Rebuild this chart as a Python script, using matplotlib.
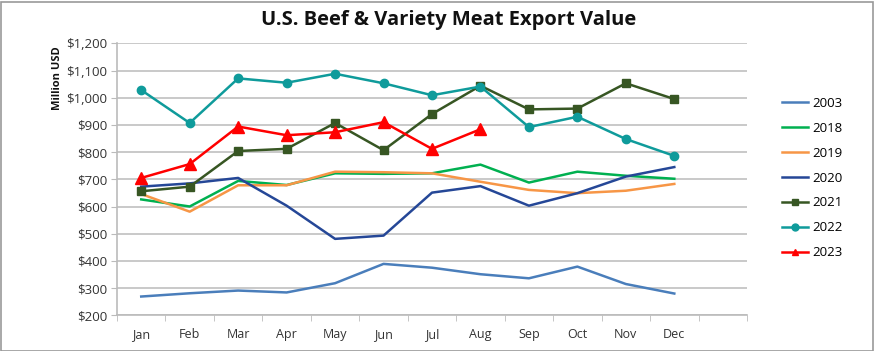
import matplotlib
matplotlib.use("Agg")
import matplotlib.pyplot as plt
from matplotlib.patches import Rectangle
from matplotlib.ticker import FuncFormatter, MultipleLocator

months = ["Jan", "Feb", "Mar", "Apr", "May", "Jun", "Jul", "Aug", "Sep", "Oct", "Nov", "Dec"]

v2003 = [269, 281, 291, 284, 318, 389, 375, 351, 336, 379, 315, 280]
v2018 = [626, 600, 694, 679, 722, 720, 722, 754, 688, 728, 713, 702]
v2019 = [646, 581, 678, 678, 728, 726, 722, 691, 661, 649, 658, 683]
v2020 = [673, 685, 705, 603, 481, 493, 651, 675, 603, 649, 710, 745]
v2021 = [656, 673, 804, 812, 907, 807, 940, 1044, 957, 960, 1053, 995]
v2022 = [1028, 907, 1071, 1055, 1088, 1053, 1009, 1041, 892, 930, 848, 786]
v2023 = [705, 756, 894, 862, 873, 910, 812, 884]

series = [
    ("2003", v2003, "#4a7ebb", None, 0),
    ("2018", v2018, "#00b050", None, 0),
    ("2019", v2019, "#f79646", None, 0),
    ("2020", v2020, "#254797", None, 0),
    ("2021", v2021, "#375623", "s", 6),
    ("2022", v2022, "#0f9b9b", "o", 6),
    ("2023", v2023, "#ff0000", "^", 9),
]

plt.rcParams['font.family'] = ['Open Sans', 'DejaVu Sans']

W, H = 876, 351
fig = plt.figure(figsize=(W / 100, H / 100), dpi=100)
ax = fig.add_axes([117 / W, 1 - 315.3 / H, (747 - 117) / W, (315.3 - 43.3) / H])

for name, vals, color, marker, ms in series:
    x = list(range(len(vals)))
    ax.plot(x, vals, color=color, lw=1.8, marker=marker, ms=ms,
            markeredgecolor=color, markerfacecolor=color, label=name)

ax.set_ylim(200, 1200)
ax.set_xlim(-0.5, 12.5)
ax.yaxis.set_major_locator(MultipleLocator(100))
ax.yaxis.set_major_formatter(FuncFormatter(lambda v, p: "${:,.0f}".format(v)))
ax.set_xticks(range(12))
ax.set_xticklabels(months)
ax.set_xticks([i - 0.5 for i in range(14)], minor=True)
ax.tick_params(axis='x', which='major', length=0, pad=9, labelsize=9, colors='#333333')
ax.tick_params(axis='x', which='minor', length=4, color='#bbbbbb', direction='out')
ax.tick_params(axis='y', length=4, color='#bbbbbb', labelsize=9.5, colors='#333333', pad=3)
ax.grid(axis='y', color='#c0c0c0', lw=1.2)
ax.set_axisbelow(True)
for s in ['top', 'right']:
    ax.spines[s].set_visible(False)
ax.spines['left'].set_color('#bbbbbb')
ax.spines['bottom'].set_color('#bbbbbb')
ax.spines['left'].set_linewidth(1.2)
ax.spines['bottom'].set_linewidth(1.2)

fig.text(57 / W, 1 - 78 / H, "Million USD", rotation=90, ha='center', va='center',
         fontsize=8, fontweight='bold', color='#111111')

fig.text(449 / W, 1 - 20 / H, "U.S. Beef & Variety Meat Export Value", ha='center', va='center',
         fontsize=14.5, fontweight='bold', color='#111111')

leg = ax.legend(loc='upper left', bbox_to_anchor=(782 / W, 1 - 97 / H), bbox_transform=fig.transFigure,
                frameon=False, fontsize=9.5, handlelength=2.0, labelspacing=0.9, handletextpad=0.3,
                borderaxespad=0, borderpad=0)
for line in leg.get_lines():
    line.set_markersize(5)

fig.patches.append(Rectangle((0.5 / W, 0.5 / H), 1 - 4 / W, 1 - 2 / H, transform=fig.transFigure,
                             fill=False, edgecolor='#999999', lw=1.2))

fig.savefig("out.png", dpi=100)
